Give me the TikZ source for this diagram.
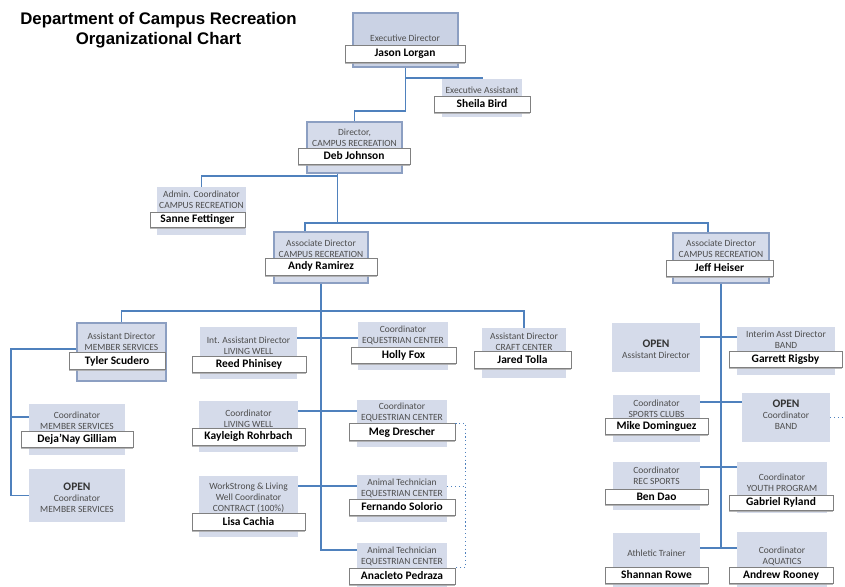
\documentclass[tikz,border=0pt]{standalone}
\usepackage{fontspec}
\setmainfont{Carlito}
\newfontfamily\headfont{Liberation Sans}
\usepackage{xcolor}
\usetikzlibrary{positioning,calc,shadows}

\definecolor{boxblue}{HTML}{D5DBEA}
\definecolor{edgeblue}{HTML}{8C9FC2}
\definecolor{linkblue}{HTML}{4F81BD}
\definecolor{rankgrey}{HTML}{4D4D4D}

\newcommand{\rankfont}{\fontsize{7.1}{8.4}\selectfont}
\newcommand{\personfont}{\fontsize{8.6}{10}\selectfont\bfseries}

\tikzset{
  link/.style={draw=linkblue, line width=1.4pt},
  dotlink/.style={draw=linkblue, line width=0.9pt, dotted},
  unit/.style={fill=boxblue, inner sep=0pt},
  edged/.style={draw=edgeblue, line width=1pt},
  ranktxt/.style={text=rankgrey, font=\rankfont, align=center, inner sep=0pt},
  namebox/.style={fill=white, draw=black!50, line width=0.5pt, inner sep=0pt, font=\personfont,
    drop shadow={shadow xshift=0pt, shadow yshift=-1.2pt, fill=black!35, opacity=0.8}},
  sz/.style 2 args={minimum width=#1*0.75pt, minimum height=#2*0.75pt}
}

\begin{document}
\begin{tikzpicture}[x=0.75pt, y=-0.75pt]
        \useasboundingbox[fill=white] (0,0) rectangle (845,586);

        \node[font=\headfont\fontsize{12.6}{15}\selectfont\bfseries, align=center] (heading) at (158.5,30) {Department of Campus Recreation\\Organizational Chart};

        % top
        \node[unit, edged, line width=2pt, fill=boxblue!85!edgeblue, sz={105}{54}] (exec) at (405.5,40) {};
        \node[ranktxt] at (405,38) {Executive Director};
        \node[namebox, sz={120}{17}] (execN) at (405,53.5) {Jason Lorgan};

        \node[unit, sz={80}{38}] (assist) at (482,98) {};
        \node[ranktxt] at (482,90) {Executive Assistant};
        \node[namebox, sz={96}{16}] (assistN) at (482,104) {Sheila Bird};

        \node[unit, edged, sz={95}{51}] (dir) at (354.5,147.5) {};
        \node[ranktxt] at (354.5,138) {Director,\\CAMPUS RECREATION};
        \node[namebox, sz={112}{16}] (dirN) at (354,156) {Deb Johnson};

        \node[unit, sz={89}{48}] (admin) at (201.5,211) {};
        \node[ranktxt] at (201.5,200) {Admin. Coordinator\\CAMPUS RECREATION};
        \node[namebox, sz={95}{15}] (adminN) at (197.5,219.5) {Sanne Fettinger};

        \node[unit, edged, sz={94}{51}] (andy) at (321,257.5) {};
        \node[ranktxt] at (321,249) {Associate Director\\CAMPUS RECREATION};
        \node[namebox, sz={112}{17}] (andyN) at (321,266.5) {Andy Ramirez};

        \node[unit, edged, sz={96}{50}] (jeff) at (721,258) {};
        \node[ranktxt] at (721,249) {Associate Director\\CAMPUS RECREATION};
        \node[namebox, sz={107}{16}] (jeffN) at (719.5,268) {Jeff Heiser};

        % Andy's side
        \node[unit, edged, sz={89}{58}] (tyler) at (121.5,352) {};
        \node[ranktxt] at (121.5,342) {Assistant Director\\MEMBER SERVICES};
        \node[namebox, sz={96}{17}] (tylerN) at (117,361) {Tyler Scudero};

        \node[unit, sz={96}{51}] (deja) at (77,429.5) {};
        \node[ranktxt] at (77,420.5) {Coordinator\\MEMBER SERVICES};
        \node[namebox, sz={112}{16}] (dejaN) at (77,439) {Deja'Nay Gilliam};

        \node[unit, sz={96}{53}] (openms) at (77,495.5) {};
        \node[ranktxt] at (77,497.5) {\personfont\color{black!80}OPEN\\Coordinator\\MEMBER SERVICES};

        \node[unit, sz={97}{52}] (reed) at (248.5,353) {};
        \node[ranktxt] at (248.5,345.5) {Int. Assistant Director\\LIVING WELL};
        \node[namebox, sz={114}{16}] (reedN) at (249,364) {Reed Phinisey};

        \node[unit, sz={90}{48}] (holly) at (403,346) {};
        \node[ranktxt] at (403,335.5) {Coordinator\\EQUESTRIAN CENTER};
        \node[namebox, sz={105}{16}] (hollyN) at (403.5,355) {Holly Fox};

        \node[unit, sz={84}{50}] (jared) at (524,353) {};
        \node[ranktxt] at (524,342) {Assistant Director\\CRAFT CENTER};
        \node[namebox, sz={97}{17}] (jaredN) at (522.5,359.5) {Jared Tolla};

        \node[unit, sz={99}{51}] (kay) at (248.5,426.5) {};
        \node[ranktxt] at (248.5,419) {Coordinator\\LIVING WELL};
        \node[namebox, sz={113}{17}] (kayN) at (248.5,436.5) {Kayleigh Rohrbach};

        \node[unit, sz={90}{47}] (meg) at (402,423.5) {};
        \node[ranktxt] at (402,412) {Coordinator\\EQUESTRIAN CENTER};
        \node[namebox, sz={106}{17}] (megN) at (402,432) {Meg Drescher};

        \node[unit, sz={99}{61}] (lisa) at (248.5,506.5) {};
        \node[ranktxt] at (248.5,498) {WorkStrong \& Living\\Well Coordinator\\CONTRACT (100\%)};
        \node[namebox, sz={113}{17}] (lisaN) at (248.5,521.5) {Lisa Cachia};

        \node[unit, sz={90}{47}] (fern) at (402,498.5) {};
        \node[ranktxt] at (402,488) {Animal Technician\\EQUESTRIAN CENTER};
        \node[namebox, sz={106}{16}] (fernN) at (402,507) {Fernando Solorio};

        \node[unit, sz={90}{49}] (ana) at (402,567.5) {};
        \node[ranktxt] at (402,556) {Animal Technician\\EQUESTRIAN CENTER};
        \node[namebox, sz={106}{16}] (anaN) at (402,576) {Anacleto Pedraza};

        % Jeff's side
        \node[unit, sz={88}{49}] (openad) at (656,347.5) {};
        \node[ranktxt] at (656,349) {\personfont\color{black!80}OPEN\\Assistant Director};

        \node[unit, sz={98}{48}] (garrett) at (786,351) {};
        \node[ranktxt] at (786,339.5) {Interim Asst Director\\BAND};
        \node[namebox, sz={113}{16}] (garrettN) at (785.5,359) {Garrett Rigsby};

        \node[unit, sz={87}{47}] (mike) at (656.5,418.5) {};
        \node[ranktxt] at (656.5,408.5) {Coordinator\\SPORTS CLUBS};
        \node[namebox, sz={103}{16}] (mikeN) at (656.5,426) {Mike Dominguez};

        \node[unit, sz={88}{49}] (openband) at (786,417.5) {};
        \node[ranktxt] at (786,414.5) {\personfont\color{black!80}OPEN\\Coordinator\\BAND};

        \node[unit, sz={87}{48}] (ben) at (656.5,486) {};
        \node[ranktxt] at (656.5,476) {Coordinator\\REC SPORTS};
        \node[namebox, sz={103}{15}] (benN) at (656.5,496.5) {Ben Dao};

        \node[unit, sz={90}{51}] (gabriel) at (782,487.5) {};
        \node[ranktxt] at (782,483) {Coordinator\\YOUTH PROGRAM};
        \node[namebox, sz={104}{15}] (gabrielN) at (781,502.5) {Gabriel Ryland};

        \node[unit, sz={87}{59}] (shannan) at (656.5,562.5) {};
        \node[ranktxt] at (656.5,553) {Athletic Trainer};
        \node[namebox, sz={103}{16}] (shannanN) at (656.5,575) {Shannan Rowe};

        \node[unit, sz={90}{60}] (andrew) at (782,562) {};
        \node[ranktxt] at (782,556) {Coordinator\\AQUATICS};
        \node[namebox, sz={104}{16}] (andrewN) at (781,575) {Andrew Rooney};

        % lines
        \draw[link] (exec.south) -- ++(0,10) -| (assist.north);
        \draw[link] (exec.south) -- ++(0,43) -| (dir.north);
        \coordinate (dirtap) at ($(dir.south)+(-17,0)$);
        \draw[link] (dirtap) -- ++(0,2) -| (admin.north);
        \draw[link] (dirtap) -- ++(0,49) coordinate (bus);
        \draw[link] (bus) -| ($(andy.north)+(-16,0)$);
        \draw[link] (bus) -| ($(jeff.north)+(-13,0)$);

        \draw[link] (andy.south) |- ($(ana.north west)+(0,7)$);
        \draw[link] ($(andy.south)+(0,27)$) coordinate (abus) -| (tyler.north);
        \draw[link] (abus) -| (jared.north);
        \draw[link] ($(reed.north east)+(0,11)$) coordinate (t) -- (t -| holly.west);
        \draw[link] ($(kay.north east)+(0,10)$) coordinate (t) -- (t -| meg.west);
        \draw[link] ($(lisa.north east)+(0,10)$) coordinate (t) -- (t -| fern.west);

        \draw[link] ($(tyler.north west)+(0,27)$) -- ++(-65,0) coordinate (lspine) |- (openms.west);
        \draw[link] ($(deja.north west)+(0,13)$) coordinate (t) -- (t -| lspine);

        \draw[dotlink] (megN.north east) -- ++(10,0) |- (anaN.north east);
        \draw[dotlink] ($(fern.north east)+(0,12)$) -- ++(18,0);

        \draw[link] ($(openad.north east)+(0,14)$) coordinate (t) -- (t -| garrett.west);
        \draw[link] ($(mike.north east)+(0,7)$) coordinate (t) -- (t -| openband.west);
        \draw[link] ($(ben.north east)+(0,5)$) coordinate (t) -- (t -| gabriel.west);
        \draw[link] ($(shannan.north east)+(0,15)$) coordinate (t) -- (t -| andrew.west);
        \draw[link] (jeff.south) -- (jeff.south |- t);
        \draw[dotlink] (openband.east) -- ++(15,0);

    \end{tikzpicture}
\end{document}
